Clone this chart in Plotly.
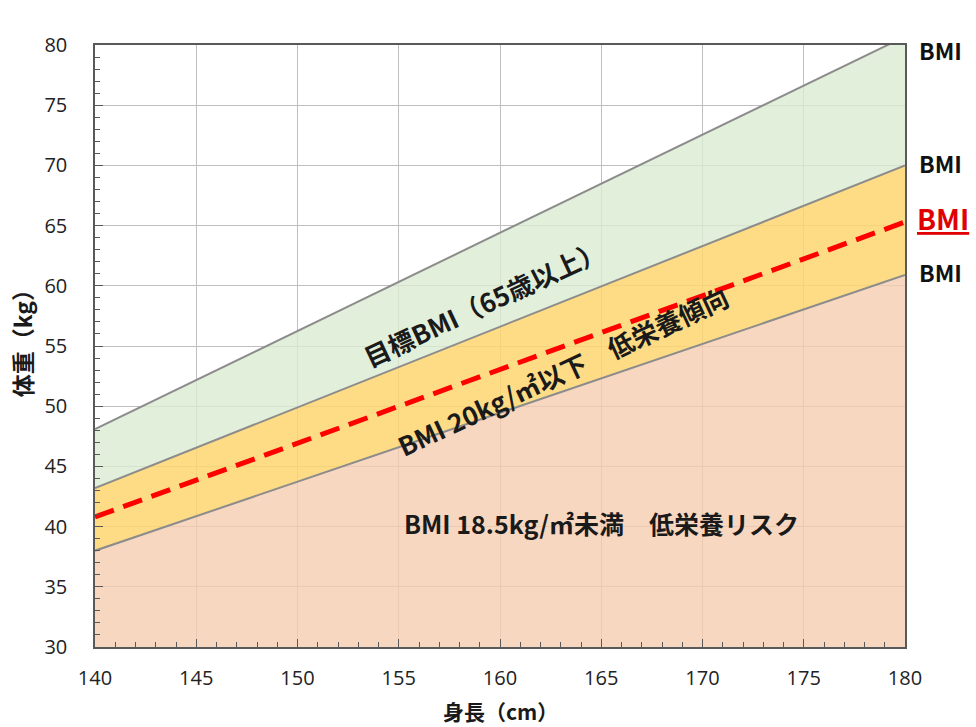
import plotly.graph_objects as go

# Height range (cm) and the weight (kg) at each end for every BMI boundary line
height_cm = [140, 180]
bmi_upper = [48.1, 80.7]      # upper end of the 65+ target range
bmi_target_low = [43.2, 70.0] # lower end of the 65+ target range
bmi_20 = [40.8, 65.3]         # BMI 20 (low-nutrition tendency)
bmi_185 = [38.0, 60.9]        # BMI 18.5 (low-nutrition risk)

x_ticks = [140, 145, 150, 155, 160, 165, 170, 175, 180]
y_ticks = [30, 35, 40, 45, 50, 55, 60, 65, 70, 75, 80]

right_labels = ["BMI", "BMI", "BMI", "BMI"]

JP = "Noto Sans CJK JP"
NUM = "Open Sans"
GRAY_LINE = "#8c8c8c"

fig = go.Figure()

# Risk zone (below BMI 18.5)
fig.add_trace(go.Scatter(
    x=height_cm, y=bmi_185, mode="lines",
    line=dict(color=GRAY_LINE, width=2),
    fill="tozeroy", fillcolor="rgba(246,205,176,0.8)",
    hoverinfo="skip", showlegend=False))
# Tendency zone (18.5 - target lower end)
fig.add_trace(go.Scatter(
    x=height_cm, y=bmi_target_low, mode="lines",
    line=dict(color=GRAY_LINE, width=2),
    fill="tonexty", fillcolor="rgba(254,214,112,0.85)",
    hoverinfo="skip", showlegend=False))
# Target zone
fig.add_trace(go.Scatter(
    x=height_cm, y=bmi_upper, mode="lines",
    line=dict(color=GRAY_LINE, width=2),
    fill="tonexty", fillcolor="rgba(219,235,209,0.8)",
    hoverinfo="skip", showlegend=False))
# BMI 20 dashed line
fig.add_trace(go.Scatter(
    x=height_cm, y=bmi_20, mode="lines",
    line=dict(color="#ff0000", width=5, dash="20px,10px"),
    hoverinfo="skip", showlegend=False))

# Labels at the right end of each line
label_y = [80, bmi_target_low[-1], bmi_20[-1], bmi_185[-1]]
label_shift = [-5, 2, 4, 3]
for i, (txt, yv, sh) in enumerate(zip(right_labels, label_y, label_shift)):
    red = i == 2
    fig.add_annotation(
        x=180, y=yv, xref="x", yref="y", xanchor="left", yanchor="middle",
        xshift=10 if red else 12, yshift=sh, showarrow=False,
        text=f"<u>{txt}</u>" if red else txt,
        font=dict(family=JP, size=28 if red else 23,
                  color="#e00000" if red else "#111111", weight="bold"))

# Zone captions along the bands
fig.add_annotation(x=159.2, y=58.6, xref="x", yref="y", showarrow=False,
                   text="目標BMI（65歳以上）", textangle=-25,
                   font=dict(family=JP, size=26, color="#1a1a1a", weight="bold"))
fig.add_annotation(x=163.1, y=53.0, xref="x", yref="y", showarrow=False,
                   text="BMI 20kg/㎡以下　低栄養傾向", textangle=-25,
                   font=dict(family=JP, size=26, color="#1a1a1a", weight="bold"))
fig.add_annotation(x=165.0, y=40.3, xref="x", yref="y", showarrow=False,
                   text="BMI 18.5kg/㎡未満　低栄養リスク",
                   font=dict(family=JP, size=25, color="#1a1a1a", weight="bold"))

# Axis titles
fig.add_annotation(x=0.5, y=-0.1063, xref="paper", yref="paper",
                   xanchor="center", yanchor="middle", showarrow=False,
                   text="身長（cm）",
                   font=dict(family=JP, size=21, color="#1a1a1a", weight="bold"))
fig.add_annotation(x=-0.09, y=0.513, xref="paper", yref="paper",
                   xanchor="center", yanchor="middle", showarrow=False,
                   text="体重（kg）", textangle=-90,
                   font=dict(family=JP, size=23, color="#1a1a1a", weight="bold"))

axis_common = dict(
    showline=True, linecolor="#595959", linewidth=1.5, mirror=True,
    showgrid=True, gridcolor="#bfbfbf", gridwidth=1,
    ticks="inside", ticklen=8, tickcolor="#595959",
    tickfont=dict(family=NUM, size=20, color="#222222"),
    zeroline=False, layer="above traces", automargin=False,
    minor=dict(dtick=1, ticks="inside", ticklen=5, tickcolor="#595959", showgrid=False),
)

fig.update_xaxes(range=[140, 180], tickvals=x_ticks, ticklabelstandoff=12, **axis_common)
fig.update_yaxes(range=[30, 80], tickvals=y_ticks, ticklabelstandoff=22, **axis_common)

fig.update_layout(
    width=976, height=727,
    margin=dict(l=95, r=71, t=45, b=80),
    plot_bgcolor="white", paper_bgcolor="white",
)

fig.write_html("out.html")
